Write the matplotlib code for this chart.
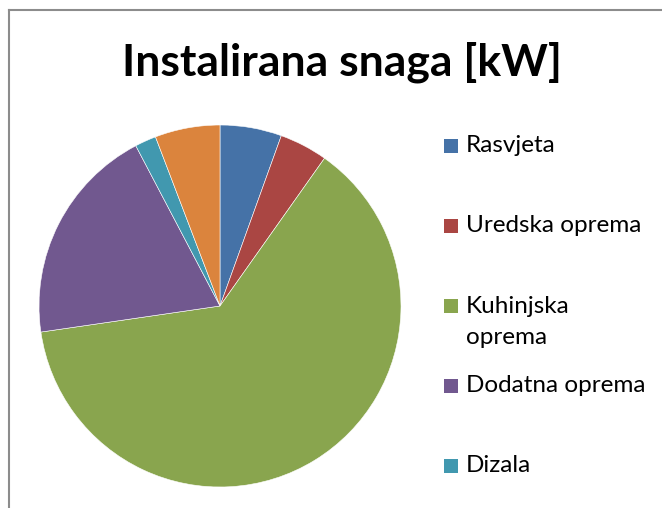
import matplotlib.pyplot as plt
import matplotlib.patches as mpatches

# installed power shares, drawn clockwise from the top
categories = ['Rasvjeta', 'Uredska oprema', 'Kuhinjska\noprema', 'Dodatna oprema', 'Dizala', 'Ostalo']
values = [5.5, 4.3, 62.9, 19.6, 1.9, 5.8]
colors = ['#4572A7', '#AA4643', '#89A54E', '#71588F', '#4198AF', '#DB843D']
legend_count = 5  # only the first five show up in the legend

W, H = 662, 508
fig = plt.figure(figsize=(W / 100, H / 100), dpi=100)

# pie axes: circle centre ~(220, 306) px, radius ~181 px
cx, cy, r = 220, 306, 181
ax = fig.add_axes([(cx - r) / W, (H - cy - r) / H, 2 * r / W, 2 * r / H])
ax.pie(values, colors=colors, startangle=90, counterclock=False, radius=1,
       wedgeprops=dict(edgecolor='white', linewidth=0.4))
ax.set_xlim(-1, 1)
ax.set_ylim(-1, 1)
ax.set_aspect('equal')
ax.axis('off')

fig.text(342 / W, 1 - 62 / H, 'Instalirana snaga [kW]', ha='center', va='center',
         fontsize=32, fontweight='bold', family='Lato')

# legend drawn by hand to keep Excel's spacing
for i in range(legend_count):
    y = 146 + i * 80
    fig.patches.append(mpatches.Rectangle((444 / W, 1 - (y + 7) / H), 14 / W, 14 / H,
                                          transform=fig.transFigure, facecolor=colors[i],
                                          edgecolor='none'))
    if '\n' in categories[i]:
        fig.text(466 / W, 1 - (y - 10) / H, categories[i], ha='left', va='top',
                 fontsize=17.5, family='Lato', linespacing=1.6)
    else:
        fig.text(466 / W, 1 - y / H, categories[i], ha='left', va='center',
                 fontsize=17.5, family='Lato')

# chart frame (left and top edges visible)
fig.add_artist(plt.Line2D([9 / W, 9 / W], [0, 1 - 10 / H], transform=fig.transFigure,
                          color='#8c8c8c', linewidth=1.5))
fig.add_artist(plt.Line2D([9 / W, 1], [1 - 10 / H, 1 - 10 / H], transform=fig.transFigure,
                          color='#8c8c8c', linewidth=1.5))

fig.savefig('out.png', dpi=100)
